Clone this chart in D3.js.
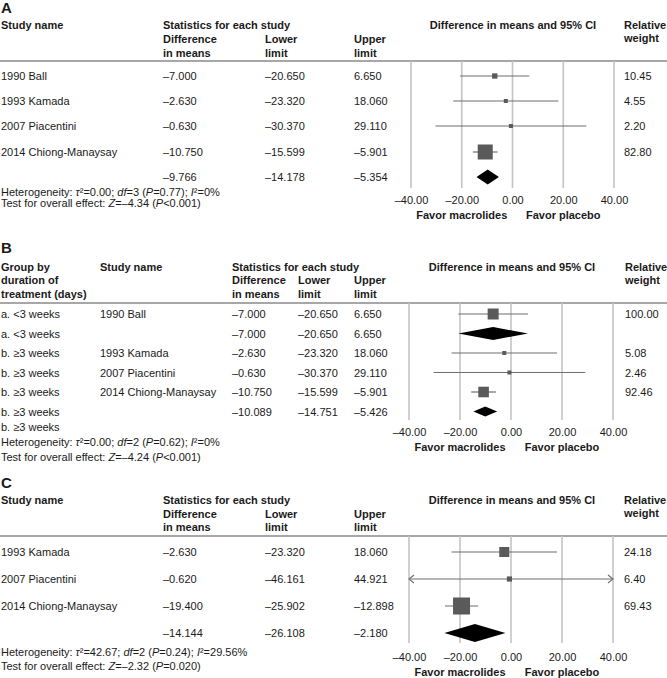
<!DOCTYPE html>
<html>
<head>
<meta charset="utf-8">
<script src="https://cdn.jsdelivr.net/npm/d3@7"></script>
<style>
  html, body { margin: 0; padding: 0; background: #fff; }
  svg { display: block; font-family: "Liberation Sans", Arial, sans-serif; }
</style>
</head>
<body>
<svg id="chart" width="667" height="678"></svg>
<script>
// ---------------- DATA ----------------
const tickValues = [-40, -20, 0, 20, 40];
const favorLabels = ["Favor macrolides", "Favor placebo"];
const favorAt = [-20, 20];

// Panel A
const aStudy  = ["1990 Ball", "1993 Kamada", "2007 Piacentini", "2014 Chiong-Manaysay"];
const aDiff   = [-7.000, -2.630, -0.630, -10.750];
const aLower  = [-20.650, -23.320, -30.370, -15.599];
const aUpper  = [6.650, 18.060, 29.110, -5.901];
const aWeight = [10.45, 4.55, 2.20, 82.80];
const aSummary = [-9.766, -14.178, -5.354];   // diff, lower, upper
const aHetero = ["0.00", "3", "0.77", "0%"];   // tau2, df, P, I2
const aTest   = ["–4.34", "<0.001"];           // Z, P

// Panel B
const bGroup  = ["a. <3 weeks", "b. ≥3 weeks", "b. ≥3 weeks", "b. ≥3 weeks"];
const bStudy  = ["1990 Ball", "1993 Kamada", "2007 Piacentini", "2014 Chiong-Manaysay"];
const bDiff   = [-7.000, -2.630, -0.630, -10.750];
const bLower  = [-20.650, -23.320, -30.370, -15.599];
const bUpper  = [6.650, 18.060, 29.110, -5.901];
const bWeight = [100.00, 5.08, 2.46, 92.46];
const bSubGroup = ["a. <3 weeks", "b. ≥3 weeks"];
const bSubDiff  = [-7.000, -10.089];
const bSubLower = [-20.650, -14.751];
const bSubUpper = [6.650, -5.426];
const bHetero = ["0.00", "2", "0.62", "0%"];
const bTest   = ["–4.24", "<0.001"];

// Panel C
const cStudy  = ["1993 Kamada", "2007 Piacentini", "2014 Chiong-Manaysay"];
const cDiff   = [-2.630, -0.620, -19.400];
const cLower  = [-23.320, -46.161, -25.902];
const cUpper  = [18.060, 44.921, -12.898];
const cWeight = [24.18, 6.40, 69.43];
const cSummary = [-14.144, -26.108, -2.180];
const cHetero = ["42.67", "2", "0.24", "29.56%"];
const cTest   = ["–2.32", "=0.020"];

// ---------------- HELPERS ----------------
const svg = d3.select("#chart");
const FS = 11;
const TXT = "#1a1a1a";
const f3 = v => d3.format(".3f")(v).replace(/[\u2212-]/, "\u2013");
const f2 = v => d3.format(".2f")(v).replace(/[\u2212-]/, "\u2013");

function text(g, x, y, s, opts = {}) {
  return g.append("text")
    .attr("x", x).attr("y", y)
    .attr("font-size", opts.size || FS)
    .attr("font-weight", opts.bold ? "bold" : "normal")
    .attr("text-anchor", opts.anchor || "start")
    .attr("fill", opts.fill || TXT)
    .text(s);
}

function stats(g, x, y, het) {
  const t1 = g.append("text").attr("x", x).attr("y", y).attr("font-size", 11).attr("fill", TXT);
  t1.append("tspan").text("Heterogeneity: ");
  t1.append("tspan").attr("font-style", "italic").text("τ");
  t1.append("tspan").text("²=" + het[0] + "; ");
  t1.append("tspan").attr("font-style", "italic").text("df");
  t1.append("tspan").text("=" + het[1] + " (");
  t1.append("tspan").attr("font-style", "italic").text("P");
  t1.append("tspan").text("=" + het[2] + "); ");
  t1.append("tspan").attr("font-style", "italic").text("I");
  t1.append("tspan").text("²=" + het[3]);
  return t1;
}
function testLine(g, x, y, test) {
  const t2 = g.append("text").attr("x", x).attr("y", y).attr("font-size", 11).attr("fill", TXT);
  t2.append("tspan").text("Test for overall effect: ");
  t2.append("tspan").attr("font-style", "italic").text("Z");
  t2.append("tspan").text("=" + test[0] + " (");
  t2.append("tspan").attr("font-style", "italic").text("P");
  t2.append("tspan").text(test[1] + ")");
}

function forest(g, cfg, rows) {
  const x = d3.scaleLinear().domain([-40, 40]).range(cfg.xRange);
  const size = d3.scaleSqrt().domain([0, cfg.maxW]).range([0, cfg.maxSq]);
  // grid
  g.selectAll(null).data(tickValues).enter().append("line")
    .attr("x1", d => x(d)).attr("x2", d => x(d))
    .attr("y1", cfg.ruleY).attr("y2", cfg.gridBottom)
    .attr("stroke", "#c4c4c4").attr("stroke-width", 1.6);
  // axis labels
  const ax = g.append("g").attr("transform", `translate(0,${cfg.tickY})`)
    .call(d3.axisBottom(x).tickValues(tickValues).tickSize(0).tickPadding(0)
      .tickFormat(d => f2(d)));
  ax.select(".domain").remove();
  ax.selectAll("text").attr("font-size", FS).attr("fill", TXT)
    .attr("font-family", "Liberation Sans, Arial, sans-serif").attr("dy", "0.36em");
  // favor labels
  favorLabels.forEach((s, i) => text(g, x(favorAt[i]), cfg.favorY, s, {bold: true, anchor: "middle"}));

  rows.forEach(r => {
    if (r.type === "study") {
      const lo = Math.max(r.lower, -40), hi = Math.min(r.upper, 40);
      g.append("line").attr("x1", x(lo)).attr("x2", x(hi)).attr("y1", r.y).attr("y2", r.y)
        .attr("stroke", "#6e6e6e").attr("stroke-width", 1.2);
      if (r.lower < -40) {
        g.append("path").attr("d", `M${x(-40)+5},${r.y-4}L${x(-40)},${r.y}L${x(-40)+5},${r.y+4}`)
          .attr("fill", "none").attr("stroke", "#6e6e6e").attr("stroke-width", 1.1);
      }
      if (r.upper > 40) {
        g.append("path").attr("d", `M${x(40)-5},${r.y-4}L${x(40)},${r.y}L${x(40)-5},${r.y+4}`)
          .attr("fill", "none").attr("stroke", "#6e6e6e").attr("stroke-width", 1.1);
      }
      const s = Math.max(4, size(r.weight));
      g.append("rect").attr("x", x(r.diff) - s / 2).attr("y", r.y - s / 2)
        .attr("width", s).attr("height", s).attr("fill", "#5a5a5a");
    } else if (r.type === "summary") {
      const h = r.dh / 2;
      g.append("path")
        .attr("d", `M${x(r.lower)},${r.y}L${x(r.diff)},${r.y-h}L${x(r.upper)},${r.y}L${x(r.diff)},${r.y+h}Z`)
        .attr("fill", "#000");
    }
  });
}

function rule(g, y) {
  g.append("line").attr("x1", 0).attr("x2", 667).attr("y1", y).attr("y2", y)
    .attr("stroke", "#8a8a8a").attr("stroke-width", 1.5);
}

// ---------------- PANEL A ----------------
(function () {
  const g = svg.append("g");
  text(g, 1, 13, "A", {bold: true, size: 15});
  text(g, 1, 29, "Study name", {bold: true});
  text(g, 163, 29, "Statistics for each study", {bold: true});
  text(g, 163, 43, "Difference", {bold: true});
  text(g, 163, 57, "in means", {bold: true});
  text(g, 265, 43, "Lower", {bold: true});
  text(g, 265, 57, "limit", {bold: true});
  text(g, 354, 43, "Upper", {bold: true});
  text(g, 354, 57, "limit", {bold: true});
  text(g, 513, 29, "Difference in means and 95% CI", {bold: true, anchor: "middle"});
  text(g, 624, 29, "Relative", {bold: true});
  text(g, 624, 42, "weight", {bold: true});
  rule(g, 61);

  const ys = [76, 101, 126, 152, 177];
  const rows = aStudy.map((s, i) => ({type: "study", name: s, diff: aDiff[i], lower: aLower[i],
    upper: aUpper[i], weight: aWeight[i], y: ys[i]}));
  rows.push({type: "summary", diff: aSummary[0], lower: aSummary[1], upper: aSummary[2], y: ys[4], dh: 15});
  rows.forEach(r => {
    if (r.name) text(g, 1, r.y + 4, r.name);
    text(g, 163, r.y + 4, f3(r.diff));
    text(g, 265, r.y + 4, f3(r.lower));
    text(g, 354, r.y + 4, f3(r.upper));
    if (r.weight != null) text(g, 624, r.y + 4, f2(r.weight));
  });
  forest(g, {xRange: [411, 614], maxW: 82.80, maxSq: 15, ruleY: 61, gridBottom: 188, tickY: 200, favorY: 219}, rows);
  stats(g, 1, 196, aHetero);
  testLine(g, 1, 207, aTest);
})();

// ---------------- PANEL B ----------------
(function () {
  const g = svg.append("g");
  text(g, 1, 253, "B", {bold: true, size: 15});
  text(g, 1, 271, "Group by", {bold: true});
  text(g, 1, 284, "duration of", {bold: true});
  text(g, 1, 298, "treatment (days)", {bold: true});
  text(g, 100, 271, "Study name", {bold: true});
  text(g, 232, 271, "Statistics for each study", {bold: true});
  text(g, 232, 284, "Difference", {bold: true});
  text(g, 232, 298, "in means", {bold: true});
  text(g, 298, 284, "Lower", {bold: true});
  text(g, 298, 298, "limit", {bold: true});
  text(g, 354, 284, "Upper", {bold: true});
  text(g, 354, 298, "limit", {bold: true});
  text(g, 512, 271, "Difference in means and 95% CI", {bold: true, anchor: "middle"});
  text(g, 625, 271, "Relative", {bold: true});
  text(g, 625, 284, "weight", {bold: true});
  rule(g, 303);

  const ys = [314, 333.5, 353, 372.5, 392, 411.5];
  const rows = [];
  const st = i => ({type: "study", group: bGroup[i], name: bStudy[i], diff: bDiff[i], lower: bLower[i],
    upper: bUpper[i], weight: bWeight[i]});
  const sub = (i, dh) => ({type: "summary", group: bSubGroup[i], diff: bSubDiff[i], lower: bSubLower[i],
    upper: bSubUpper[i], dh: dh});
  rows.push(st(0), sub(0, 13), st(1), st(2), st(3), sub(1, 10));
  rows.forEach((r, i) => r.y = ys[i]);
  rows.forEach(r => {
    text(g, 1, r.y + 4, r.group);
    if (r.name) text(g, 100, r.y + 4, r.name);
    text(g, 232, r.y + 4, f3(r.diff));
    text(g, 298, r.y + 4, f3(r.lower));
    text(g, 354, r.y + 4, f3(r.upper));
    if (r.weight != null) text(g, 625, r.y + 4, f2(r.weight));
  });
  text(g, 1, 431, bSubGroup[1]);
  forest(g, {xRange: [409, 613], maxW: 100, maxSq: 11, ruleY: 303, gridBottom: 420, tickY: 432, favorY: 451}, rows);
  stats(g, 1, 446, bHetero);
  testLine(g, 1, 461, bTest);
})();

// ---------------- PANEL C ----------------
(function () {
  const g = svg.append("g");
  text(g, 1, 488, "C", {bold: true, size: 15});
  text(g, 1, 504, "Study name", {bold: true});
  text(g, 163, 504, "Statistics for each study", {bold: true});
  text(g, 163, 518, "Difference", {bold: true});
  text(g, 163, 531, "in means", {bold: true});
  text(g, 265, 518, "Lower", {bold: true});
  text(g, 265, 531, "limit", {bold: true});
  text(g, 354, 518, "Upper", {bold: true});
  text(g, 354, 531, "limit", {bold: true});
  text(g, 512, 504, "Difference in means and 95% CI", {bold: true, anchor: "middle"});
  text(g, 624, 504, "Relative", {bold: true});
  text(g, 624, 517, "weight", {bold: true});
  rule(g, 536);

  const ys = [552, 579, 606, 633];
  const rows = cStudy.map((s, i) => ({type: "study", name: s, diff: cDiff[i], lower: cLower[i],
    upper: cUpper[i], weight: cWeight[i], y: ys[i]}));
  rows.push({type: "summary", diff: cSummary[0], lower: cSummary[1], upper: cSummary[2], y: ys[3], dh: 18});
  rows.forEach(r => {
    if (r.name) text(g, 1, r.y + 4, r.name);
    text(g, 163, r.y + 4, f3(r.diff));
    text(g, 265, r.y + 4, f3(r.lower));
    text(g, 354, r.y + 4, f3(r.upper));
    if (r.weight != null) text(g, 624, r.y + 4, f2(r.weight));
  });
  forest(g, {xRange: [409, 613], maxW: 69.43, maxSq: 17, ruleY: 536, gridBottom: 643, tickY: 657, favorY: 676}, rows);
  stats(g, 1, 656, cHetero);
  testLine(g, 1, 670, cTest);
})();
</script>
</body>
</html>
